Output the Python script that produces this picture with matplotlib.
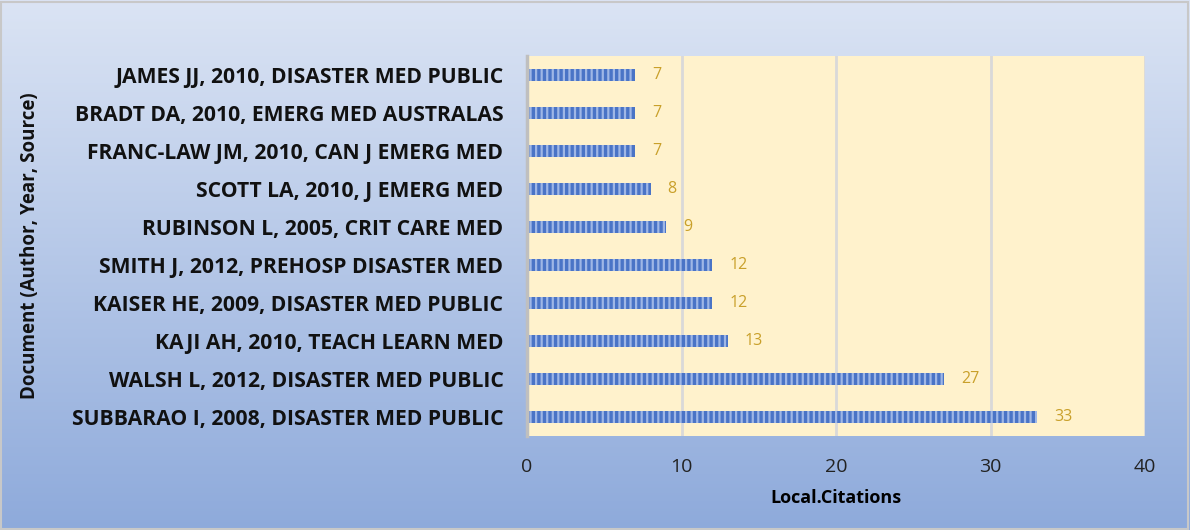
import numpy as np
import matplotlib
matplotlib.use("Agg")
import matplotlib.pyplot as plt
from matplotlib.colors import LinearSegmentedColormap

docs = [
    "SUBBARAO I, 2008, DISASTER MED PUBLIC",
    "WALSH L, 2012, DISASTER MED PUBLIC",
    "KAJI AH, 2010, TEACH LEARN MED",
    "KAISER HE, 2009, DISASTER MED PUBLIC",
    "SMITH J, 2012, PREHOSP DISASTER MED",
    "RUBINSON L, 2005, CRIT CARE MED",
    "SCOTT LA, 2010, J EMERG MED",
    "FRANC-LAW JM, 2010, CAN J EMERG MED",
    "BRADT DA, 2010, EMERG MED AUSTRALAS",
    "JAMES JJ, 2010, DISASTER MED PUBLIC",
]
citations = [33, 27, 13, 12, 12, 9, 8, 7, 7, 7]
xticks = [0, 10, 20, 30, 40]

plt.rcParams["font.family"] = ["Open Sans", "DejaVu Sans"]
plt.rcParams["hatch.linewidth"] = 1.6

W, H = 1190, 530
fig = plt.figure(figsize=(W / 100, H / 100), dpi=100)

# gradient background
bg = fig.add_axes([0, 0, 1, 1], zorder=-10)
cmap = LinearSegmentedColormap.from_list("bg", ["#dbe4f4", "#8eaadb"])
grad = np.linspace(0, 1, 256).reshape(-1, 1)
bg.imshow(grad, aspect="auto", cmap=cmap, extent=[0, 1, 0, 1], origin="upper")
bg.add_patch(plt.Rectangle((0.001, 0.002), 0.997, 0.995, fill=False,
                           ec="#c8c8c8", lw=1.5, transform=bg.transAxes))
bg.set_axis_off()

ax = fig.add_axes([527 / W, 1 - 436 / H, (1145 - 527) / W, (436 - 56) / H])
ax.set_facecolor("#fff2cc")
y = np.arange(len(docs))
ax.barh(y, citations, height=0.32, color="#4a74c6", edgecolor="#9fb7e6",
        hatch="|||", linewidth=0, zorder=3)
for yi, v in zip(y, citations):
    ax.text(v + 1.1, yi, str(v), va="center", ha="left", fontsize=11.5,
            color="#c9a02a", zorder=4)

ax.set_xlim(0, 40)
ax.set_ylim(-0.5, len(docs) - 0.5)
ax.set_xticks(xticks)
ax.set_xticklabels([str(t) for t in xticks], fontsize=14, color="#222222")
ax.set_yticks(y)
ax.set_yticklabels(docs, fontsize=15.2, fontweight="bold", color="#111111")
ax.tick_params(axis="both", length=0)
ax.tick_params(axis="x", pad=16)
ax.tick_params(axis="y", pad=17)
ax.grid(axis="x", color="#d9d9d9", lw=2, zorder=1)
for s in ["top", "right", "bottom"]:
    ax.spines[s].set_visible(False)
ax.spines["left"].set_color("#bfbfbf")
ax.spines["left"].set_linewidth(2.5)
ax.spines["left"].set_zorder(5)

ax.set_xlabel("Local.Citations", fontsize=13, fontweight="bold", labelpad=9)
fig.text(30 / W, 1 - 246 / H, "Document (Author, Year, Source)", rotation=90,
         ha="center", va="center", fontsize=13.5, fontweight="bold", color="#111111")

fig.savefig("out.png", dpi=100)
